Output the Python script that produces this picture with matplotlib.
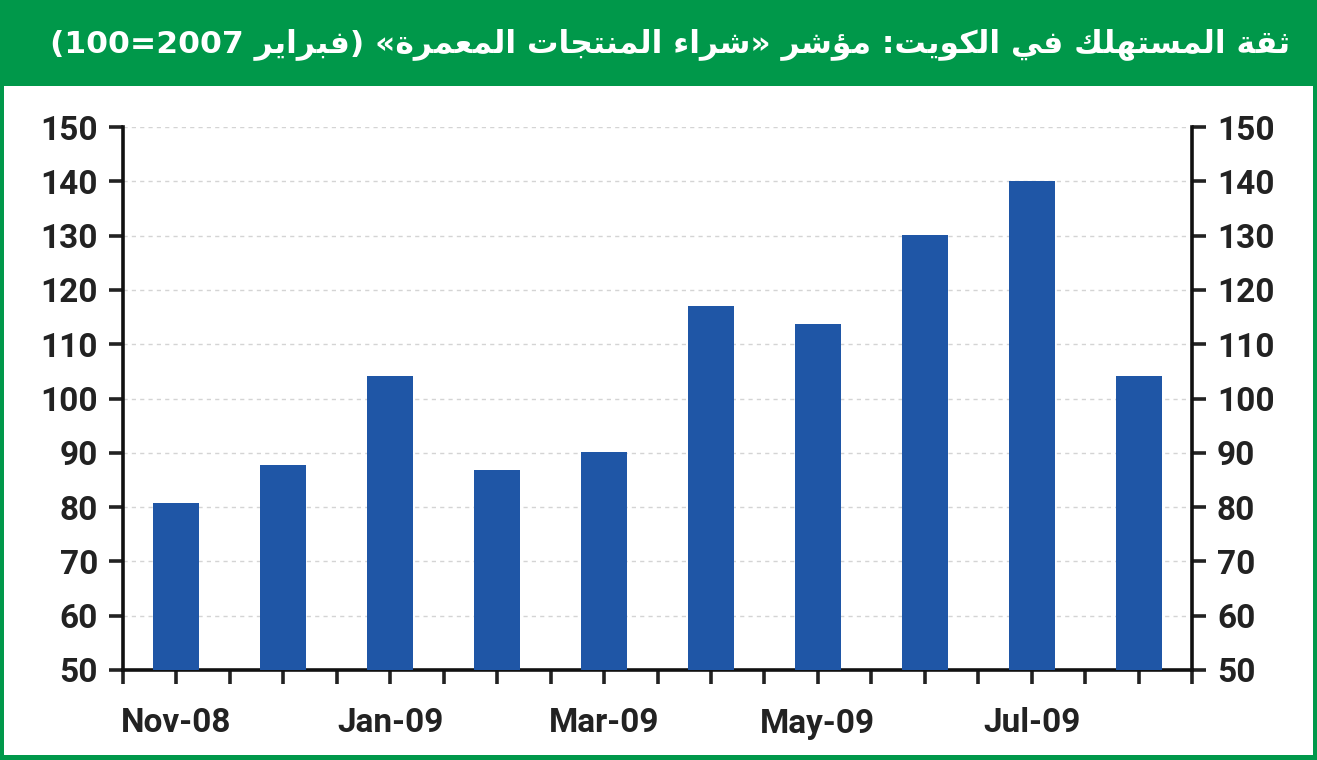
import matplotlib
matplotlib.use("Agg")
import matplotlib.pyplot as plt
from matplotlib.patches import Rectangle

# --- dados
months = ['Nov-08', 'Dec-08', 'Jan-09', 'Feb-09', 'Mar-09',
          'Apr-09', 'May-09', 'Jun-09', 'Jul-09', 'Aug-09']
values = [80.7, 87.7, 104.1, 86.9, 90.1, 117.1, 113.8, 130.2, 140.0, 104.1]
yticks = [50, 60, 70, 80, 90, 100, 110, 120, 130, 140, 150]
title = 'ثقة المستهلك في الكويت: مؤشر «شراء المنتجات المعمرة» (فبراير 2007=100)'

GREEN = '#00984a'
BLUE = '#1f56a6'
NUM_FONT = ['Roboto', 'DejaVu Sans']

# --- árabe: matplotlib não faz shaping nem bidi, então faço à mão
FOUR = {'ئ': 0xFE89, 'ب': 0xFE8F, 'ت': 0xFE95, 'ث': 0xFE99, 'ج': 0xFE9D,
        'ح': 0xFEA1, 'خ': 0xFEA5, 'س': 0xFEB1, 'ش': 0xFEB5, 'ص': 0xFEB9,
        'ض': 0xFEBD, 'ط': 0xFEC1, 'ظ': 0xFEC5, 'ع': 0xFEC9, 'غ': 0xFECD,
        'ف': 0xFED1, 'ق': 0xFED5, 'ك': 0xFED9, 'ل': 0xFEDD, 'م': 0xFEE1,
        'ن': 0xFEE5, 'ه': 0xFEE9, 'ي': 0xFEF1}
TWO = {'آ': 0xFE81, 'أ': 0xFE83, 'ؤ': 0xFE85, 'إ': 0xFE87, 'ا': 0xFE8D,
       'ة': 0xFE93, 'د': 0xFEA9, 'ذ': 0xFEAB, 'ر': 0xFEAD, 'ز': 0xFEAF,
       'و': 0xFEED, 'ى': 0xFEEF}
ONE = {'ء': 0xFE80}
LAMALEF = {'آ': 0xFEF5, 'أ': 0xFEF7, 'إ': 0xFEF9, 'ا': 0xFEFB}
MIRROR = {'(': ')', ')': '(', '«': '»', '»': '«'}


def shape(text):
    out = []
    i, n = 0, len(text)
    while i < n:
        c = text[i]
        if c not in FOUR and c not in TWO and c not in ONE:
            out.append(c)
            i += 1
            continue
        prev = text[i - 1] if i > 0 else ''
        jp = prev in FOUR
        if c == 'ل' and i + 1 < n and text[i + 1] in LAMALEF:
            out.append(chr(LAMALEF[text[i + 1]] + (1 if jp else 0)))
            i += 2
            continue
        nxt = text[i + 1] if i + 1 < n else ''
        if c in ONE:
            out.append(chr(ONE[c]))
        elif c in TWO:
            out.append(chr(TWO[c] + (1 if jp else 0)))
        else:
            jn = nxt in FOUR or nxt in TWO
            out.append(chr(FOUR[c] + {(False, False): 0, (True, False): 1,
                                      (False, True): 2, (True, True): 3}[(jp, jn)]))
        i += 1
    return ''.join(out)


def visual(text):
    s = shape(text)[::-1]
    res, run = [], ''
    for ch in s:
        if ch.isdigit():
            run += ch
        else:
            if run:
                res.append(run[::-1])
                run = ''
            res.append(MIRROR.get(ch, ch))
    if run:
        res.append(run[::-1])
    return ''.join(res)


fig = plt.figure(figsize=(13.17, 7.6), dpi=100)
fig.patch.set_facecolor(GREEN)
fig.patches.append(Rectangle((4 / 1317, 5 / 760), 1309 / 1317, (755 - 86) / 760,
                             transform=fig.transFigure, facecolor='white',
                             edgecolor='none', zorder=-1))

t = fig.text(1290 / 1317, 1 - 44 / 760, visual(title), color='white',
             fontsize=24, fontweight='bold', family=['DejaVu Sans'],
             ha='right', va='center')

ax = fig.add_axes([123 / 1317, (760 - 670) / 760, 1069 / 1317, 543 / 760])
ax.set_zorder(2)
ax.set_facecolor('none')
x = [i + 0.5 for i in range(len(months))]
ax.bar(x, values, width=0.43, color=BLUE, zorder=3)

ax.set_xlim(0, len(months))
ax.set_ylim(50, 150)
ax.set_yticks(yticks)
ax.set_yticklabels([str(v) for v in yticks])
ax.grid(axis='y', color='#d4d4d4', linestyle=(0, (3, 3)), linewidth=1.0, zorder=0)

xt = [i * 0.5 for i in range(2 * len(months) + 1)]
labels = [''] * len(xt)
for i, m in enumerate(months):
    if i % 2 == 0:
        labels[2 * i + 1] = m
ax.set_xticks(xt)
ax.set_xticklabels(labels)

for s in ['left', 'right', 'bottom']:
    ax.spines[s].set_linewidth(2.6)
    ax.spines[s].set_color('#111111')
ax.spines['top'].set_visible(False)

ax.tick_params(axis='y', which='both', direction='out', length=10, width=2.6,
               left=True, right=True, labelleft=True, labelright=True, pad=8,
               labelsize=24, colors='#222222')
ax.tick_params(axis='x', direction='out', length=10, width=2.6, pad=17,
               labelsize=24, colors='#222222')
for lab in ax.get_xticklabels() + ax.get_yticklabels():
    lab.set_family(NUM_FONT)
    lab.set_fontweight('bold')
for tk in ax.yaxis.get_major_ticks():
    tk.label2.set_family(NUM_FONT)
    tk.label2.set_fontweight('bold')

# ajusta o tamanho do título para ocupar a mesma largura da referência
fig.canvas.draw()
w = t.get_window_extent().width
t.set_fontsize(24 * (1290 - 45) / w)

plt.savefig('out.png', dpi=100, facecolor=fig.get_facecolor())
